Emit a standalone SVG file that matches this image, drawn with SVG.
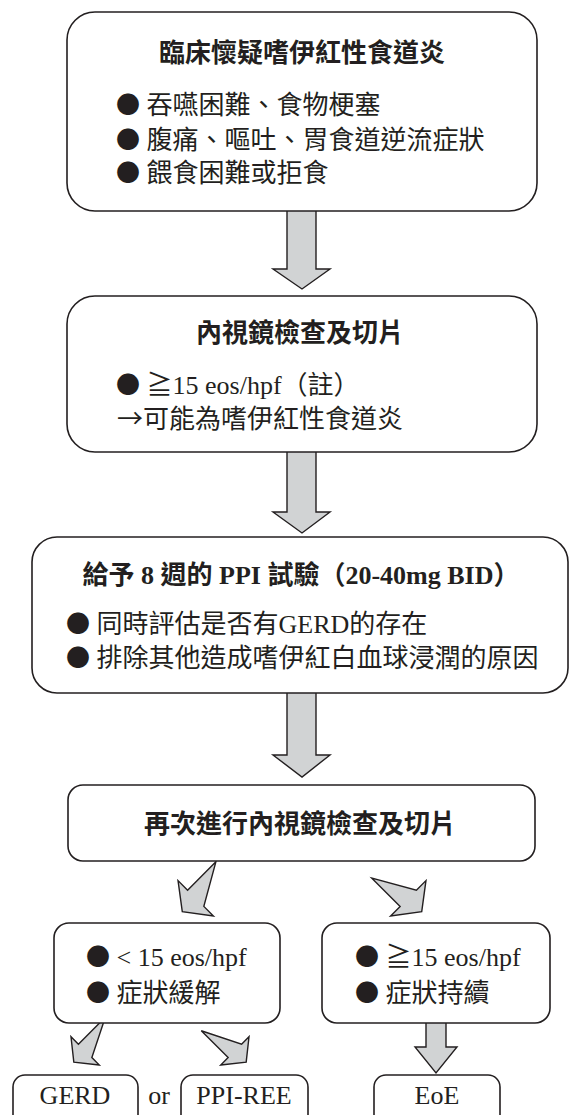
<svg xmlns="http://www.w3.org/2000/svg" width="569" height="1115" viewBox="0 0 569 1115">
<style>
  .box{fill:#fff;stroke:#231f20;stroke-width:1.6}
  .arr{fill:#d1d3d4;stroke:#231f20;stroke-width:1.4;stroke-linejoin:miter}
  text{font-family:"Liberation Serif","Noto Sans CJK TC",serif;font-size:26px;fill:#231f20}
  .t{font-weight:bold;text-anchor:middle}
  .c{text-anchor:middle}
  .b{font-family:"Noto Sans CJK TC",sans-serif;font-size:24px}
  .a{font-family:"Noto Sans CJK TC",sans-serif}
</style>
<rect width="569" height="1115" fill="#fff"/>
<g id="connectors">
  <path class="arr" d="M287,211 V269 H273 L302,289 L330,269 H316 V211"/>
  <path class="arr" d="M287,452 V512 H273 L302,533 L330,512 H316 V452"/>
  <path class="arr" d="M287,693 V755 H273 L302,777 L330,755 H316 V693"/>
  <path class="arr" transform="translate(224,870) rotate(45)" d="M-11.5,0 V40 H-25 L0,59 L25,40 H11.5 Z"/>
  <path class="arr" transform="translate(380,870) rotate(-45)" d="M-11.5,0 V40 H-25 L0,59 L25,40 H11.5 Z"/>
  <path class="arr" transform="translate(112,1024) rotate(45)" d="M-9.5,0 V38 H-20 L0,54 L20,38 H9.5 Z"/>
  <path class="arr" transform="translate(208,1024) rotate(-45)" d="M-9.5,0 V38 H-20 L0,54 L20,38 H9.5 Z"/>
  <path class="arr" d="M426,1023 V1047 H415 L436,1073 L457,1047 H446 V1023"/>
</g>
<g id="n1">
  <rect class="box" x="67" y="12" width="470" height="199" rx="28"/>
  <text class="t" x="302" y="62">臨床懷疑嗜伊紅性食道炎</text>
  <text x="116" y="114"><tspan class="b" dy="-1">●</tspan><tspan dy="1"> 吞嚥困難、食物梗塞</tspan></text>
  <text x="116" y="149"><tspan class="b" dy="-1">●</tspan><tspan dy="1"> 腹痛、嘔吐、胃食道逆流症狀</tspan></text>
  <text x="116" y="182"><tspan class="b" dy="-1">●</tspan><tspan dy="1"> 餵食困難或拒食</tspan></text>
</g>
<g id="n2">
  <rect class="box" x="67" y="296" width="470" height="156" rx="28"/>
  <text class="t" x="300" y="342">內視鏡檢查及切片</text>
  <text x="116" y="394"><tspan class="b" dy="-1">●</tspan><tspan dy="1"> ≧15 eos/hpf（註）</tspan></text>
  <text x="117" y="428"><tspan class="a">→</tspan>可能為嗜伊紅性食道炎</text>
</g>
<g id="n3">
  <rect class="box" x="32" y="537" width="536" height="156" rx="25"/>
  <text class="t" x="301" y="584">給予 8 週的 PPI 試驗（20-40mg BID）</text>
  <text x="66" y="633"><tspan class="b" dy="-1">●</tspan><tspan dy="1"> 同時評估是否有GERD的存在</tspan></text>
  <text x="66" y="667"><tspan class="b" dy="-1">●</tspan><tspan dy="1"> 排除其他造成嗜伊紅白血球浸潤的原因</tspan></text>
</g>
<g id="n4">
  <rect class="box" x="68" y="785" width="467" height="76" rx="15"/>
  <text class="t" x="300" y="833">再次進行內視鏡檢查及切片</text>
</g>
<g id="n5">
  <rect class="box" x="54" y="923" width="226" height="100" rx="15"/>
  <text x="86" y="966"><tspan class="b" dy="-1">●</tspan><tspan dy="1"> &lt; 15 eos/hpf</tspan></text>
  <text x="86" y="1002"><tspan class="b" dy="-1">●</tspan><tspan dy="1"> 症狀緩解</tspan></text>
</g>
<g id="n6">
  <rect class="box" x="322" y="923" width="228" height="100" rx="15"/>
  <text x="355" y="966"><tspan class="b" dy="-1">●</tspan><tspan dy="1"> ≧15 eos/hpf</tspan></text>
  <text x="355" y="1002"><tspan class="b" dy="-1">●</tspan><tspan dy="1"> 症狀持續</tspan></text>
</g>
<g id="n7">
  <rect class="box" x="13" y="1075" width="125" height="60" rx="12"/>
  <text class="c" x="75" y="1104">GERD</text>
</g>
<text class="c" x="159" y="1104">or</text>
<g id="n8">
  <rect class="box" x="181" y="1075" width="127" height="60" rx="12"/>
  <text class="c" x="244" y="1104">PPI-REE</text>
</g>
<g id="n9">
  <rect class="box" x="374" y="1075" width="126" height="60" rx="12"/>
  <text class="c" x="437" y="1104">EoE</text>
</g>
</svg>
